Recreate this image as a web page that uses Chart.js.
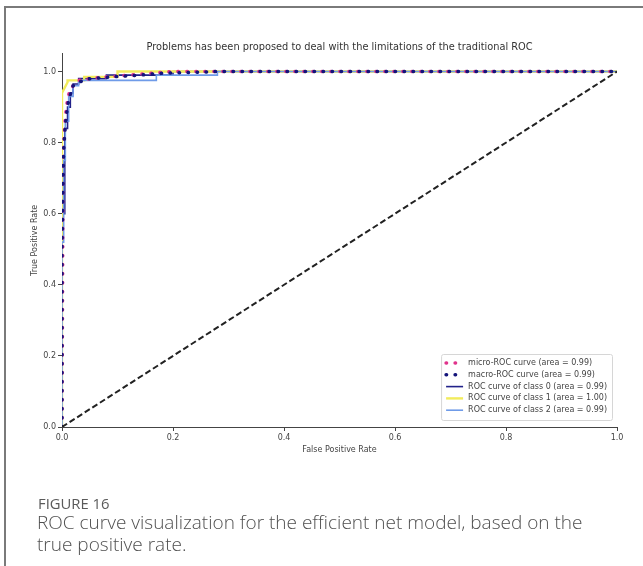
<!DOCTYPE html>
<html>
<head>
<meta charset="utf-8">
<script src="https://cdn.jsdelivr.net/npm/chart.js@4.4.1/dist/chart.umd.min.js"></script>
<style>
  html, body { margin: 0; padding: 0; background: #fff; }
  body { width: 643px; height: 566px; position: relative; overflow: hidden; }
  #wrap { position: absolute; left: 0; top: 0; width: 643px; height: 470px; }
  #frame { position: absolute; left: 4px; top: 6px; width: 660px; height: 600px;
           border-left: 2px solid #7a7a7a; border-top: 2px solid #7a7a7a; pointer-events: none; }
  .fig { position: absolute; left: 38px; top: 494px; font-family: "Open Sans", sans-serif;
         font-size: 14.8px; line-height: 18px; color: #5a5a5a; }
  .cap { position: absolute; left: 37px; top: 512px; font-family: "Open Sans", sans-serif;
         font-weight: 300; font-size: 19px; line-height: 21.5px; color: #505050; }
</style>
</head>
<body>
<div id="wrap"><canvas id="roc" width="643" height="470"></canvas></div>
<div id="frame"></div>
<div class="fig">FIGURE 16</div>
<div class="cap">ROC curve visualization for the efficient net model, based on the<br>true positive rate.</div>
<script>
// tick values
const xTicks = [0, 0.2, 0.4, 0.6, 0.8, 1.0];
const yTicks = [0, 0.2, 0.4, 0.6, 0.8, 1.0];

const seriesLabels = [
  'micro-ROC curve (area = 0.99)',
  'macro-ROC curve (area = 0.99)',
  'ROC curve of class 0 (area = 0.99)',
  'ROC curve of class 1 (area = 1.00)',
  'ROC curve of class 2 (area = 0.99)'
];

// (fpr / tpr)
const microFpr = [0, 0.002, 0.004, 0.006, 0.008, 0.01, 0.013, 0.016, 0.02, 0.03, 0.05, 0.08, 0.12, 0.16, 0.2, 1];
const microTpr = [0, 0.75, 0.82, 0.87, 0.9, 0.92, 0.94, 0.95, 0.96, 0.975, 0.98, 0.985, 0.99, 0.995, 1.0, 1.0];

const macroFpr = [0, 0, 0.003, 0.006, 0.009, 0.012, 0.016, 0.02, 0.03, 0.05, 0.09, 0.14, 0.18, 0.28, 1];
const macroTpr = [0, 0.5, 0.78, 0.85, 0.89, 0.92, 0.94, 0.96, 0.97, 0.98, 0.985, 0.99, 0.995, 1.0, 1.0];

const class0Fpr = [0, 0, 0.005, 0.005, 0.01, 0.01, 0.015, 0.015, 0.02, 0.02, 0.03, 0.03, 0.08, 0.08, 0.2, 0.2, 1];
const class0Tpr = [0, 0.6, 0.6, 0.84, 0.84, 0.9, 0.9, 0.94, 0.94, 0.965, 0.965, 0.98, 0.98, 0.99, 0.99, 1.0, 1.0];

const class1Fpr = [0, 0, 0.01, 0.01, 0.04, 0.04, 0.1, 0.1, 1];
const class1Tpr = [0, 0.94, 0.97, 0.975, 0.975, 0.985, 0.985, 1.0, 1.0];

const class2Fpr = [0, 0, 0.003, 0.003, 0.006, 0.006, 0.012, 0.012, 0.02, 0.02, 0.03, 0.03, 0.17, 0.17, 0.28, 0.28, 1];
const class2Tpr = [0, 0.52, 0.52, 0.75, 0.75, 0.86, 0.86, 0.93, 0.93, 0.96, 0.96, 0.975, 0.975, 0.99, 0.99, 1.0, 1.0];

const chanceFpr = [0, 1];
const chanceTpr = [0, 1];

const pts = (xs, ys) => xs.map((x, i) => ({ x: x, y: ys[i] }));

const textColor = '#444';
const axisColor = '#444';

// matplotlib-ish legend in the lower right of the plot area
const boxLegend = {
  id: 'boxLegend',
  afterDraw(chart) {
    const ctx = chart.ctx;
    const area = chart.chartArea;
    const items = chart.data.datasets.filter(d => d.label);
    ctx.save();
    ctx.font = '8px "DejaVu Sans"';
    let tw = 0;
    items.forEach(d => { tw = Math.max(tw, ctx.measureText(d.label).width); });
    const pad = 5, handle = 17, gap = 5, rowH = 11.8;
    const w = pad + handle + gap + tw + pad;
    const h = pad + rowH * items.length + 2;
    const x0 = area.right - 5 - w;
    const y0 = area.bottom - 7 - h;
    ctx.fillStyle = 'rgba(255,255,255,0.85)';
    ctx.strokeStyle = '#d6d6d6';
    ctx.lineWidth = 1;
    ctx.beginPath();
    ctx.roundRect(x0 + 0.5, y0 + 0.5, w, h, 2);
    ctx.fill();
    ctx.stroke();
    items.forEach((d, i) => {
      const cy = y0 + pad + 4 + i * rowH;
      ctx.beginPath();
      ctx.strokeStyle = d.borderColor;
      ctx.lineWidth = d.borderWidth;
      ctx.lineCap = d.borderCapStyle || 'butt';
      ctx.setLineDash(d.borderDash || []);
      ctx.moveTo(x0 + pad, cy);
      ctx.lineTo(x0 + pad + handle, cy);
      ctx.stroke();
      ctx.setLineDash([]);
      ctx.fillStyle = textColor;
      ctx.textBaseline = 'middle';
      ctx.fillText(d.label, x0 + pad + handle + gap, cy);
    });
    ctx.restore();
  }
};

new Chart(document.getElementById('roc'), {
  type: 'scatter',
  data: {
    datasets: [
      { label: seriesLabels[0], data: pts(microFpr, microTpr), showLine: true, pointRadius: 0,
        borderColor: '#e0338c', borderWidth: 3.5, borderDash: [0.5, 8.5], borderCapStyle: 'round', order: 2 },
      { label: seriesLabels[1], data: pts(macroFpr, macroTpr), showLine: true, pointRadius: 0,
        borderColor: '#14147a', borderWidth: 3.5, borderDash: [0.5, 8.5], borderCapStyle: 'round', order: 1 },
      { label: seriesLabels[2], data: pts(class0Fpr, class0Tpr), showLine: true, pointRadius: 0,
        borderColor: '#22228a', borderWidth: 1.6, order: 5 },
      { label: seriesLabels[3], data: pts(class1Fpr, class1Tpr), showLine: true, pointRadius: 0,
        borderColor: '#f2ec5c', borderWidth: 2.4, order: 4 },
      { label: seriesLabels[4], data: pts(class2Fpr, class2Tpr), showLine: true, pointRadius: 0,
        borderColor: '#6f9be8', borderWidth: 1.6, order: 3 },
      { label: '', data: pts(chanceFpr, chanceTpr), showLine: true, pointRadius: 0,
        borderColor: '#222', borderWidth: 2, borderDash: [6, 3], order: 0 }
    ]
  },
  options: {
    responsive: false,
    animation: false,
    layout: { padding: { left: 0, right: 26, top: 0, bottom: 0 } },
    plugins: {
      legend: { display: false },
      tooltip: { enabled: false },
      title: {
        display: true,
        fullSize: false,
        text: 'Problems has been proposed to deal with the limitations of the traditional ROC',
        color: '#333',
        font: { family: 'DejaVu Sans', size: 9.8, weight: 'normal' },
        padding: { top: 42, bottom: 0 }
      }
    },
    scales: {
      x: {
        type: 'linear', min: 0, max: 1,
        afterBuildTicks: s => { s.ticks = xTicks.map(v => ({ value: v })); },
        afterFit: s => { s.height = 43; },
        grid: { drawOnChartArea: false, drawTicks: true, tickLength: 4, color: axisColor },
        border: { display: true, color: axisColor, width: 1 },
        ticks: { color: textColor, padding: 2, font: { family: 'DejaVu Sans', size: 8 },
                 callback: v => Number(v).toFixed(1) },
        title: { display: true, text: 'False Positive Rate', color: textColor,
                 font: { family: 'DejaVu Sans', size: 8 }, padding: { top: 0, bottom: 15 } }
      },
      y: {
        type: 'linear', min: 0, max: 1.05,
        afterBuildTicks: s => { s.ticks = yTicks.map(v => ({ value: v })); },
        afterFit: s => { s.width = 62; },
        grid: { drawOnChartArea: false, drawTicks: true, tickLength: 4, color: axisColor },
        border: { display: true, color: axisColor, width: 1 },
        ticks: { color: textColor, padding: 2, font: { family: 'DejaVu Sans', size: 8 },
                 callback: v => Number(v).toFixed(1) },
        title: { display: true, text: 'True Positive Rate', color: textColor,
                 font: { family: 'DejaVu Sans', size: 8 }, padding: { top: 30, bottom: 0 } }
      }
    }
  },
  plugins: [boxLegend]
});
</script>
</body>
</html>
